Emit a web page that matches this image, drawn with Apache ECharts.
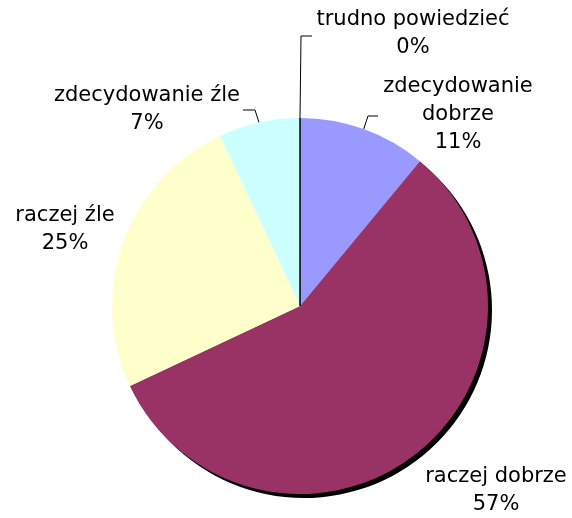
<!DOCTYPE html>
<html lang="pl">
<head>
  <meta charset="UTF-8" />
  <title>Ocena</title>
  <script src="https://cdn.jsdelivr.net/npm/echarts@6/dist/echarts.min.js"></script>
  <style>
    html, body { margin: 0; padding: 0; background: #ffffff; }
    #main { width: 572px; height: 518px; }
  </style>
</head>
<body>
  <div id="main"></div>
  <script>
  (function() {
    // kategorie i wartości (%), zgodnie z ruchem wskazówek zegara od góry
    const categories = ['zdecydowanie\ndobrze', 'raczej dobrze', 'raczej źle', 'zdecydowanie źle', 'trudno powiedzieć'];
    const values = [11, 57, 25, 7, 0];
    const colors = ['#9999ff', '#993366', '#ffffcc', '#ccffff', '#ffffff'];

    // rozmieszczenie etykiet: środek tekstu i punkty linii odniesienia
    const labelSpots = [
      { x: 458, y: 115, line: [[368, 116], [378, 116]] },
      { x: 496, y: 491, line: null },
      { x: 65, y: 230, line: null },
      { x: 147, y: 110, line: [[255, 110], [243, 110]] },
      { x: 413, y: 34, line: [[301, 36], [312, 36]] }
    ];

    const chart = echarts.init(document.getElementById('main'));

    function sliceStyle(i) {
      const s = { color: colors[i] };
      if (i === 1) {
        s.shadowColor = '#000';
        s.shadowOffsetX = 4;
        s.shadowOffsetY = 4;
        s.shadowBlur = 0;
      }
      if (values[i] === 0) {
        s.borderColor = '#000';
        s.borderWidth = 1;
      }
      return s;
    }

    chart.setOption({
      backgroundColor: '#ffffff',
      animation: false,
      series: [{
        type: 'pie',
        center: [300, 306],
        radius: 188,
        startAngle: 90,
        clockwise: true,
        avoidLabelOverlap: false,
        silent: true,
        data: categories.map((name, i) => ({
          name: name,
          value: values[i],
          itemStyle: sliceStyle(i),
          labelLine: { show: !!labelSpots[i].line }
        })),
        label: {
          show: true,
          position: 'outside',
          formatter: p => p.name + '\n' + p.value + '%',
          fontFamily: 'Verdana, "DejaVu Sans", sans-serif',
          fontSize: 21,
          lineHeight: 28,
          color: '#000',
          align: 'center'
        },
        labelLine: {
          show: true,
          lineStyle: { color: '#000', width: 1 }
        },
        labelLayout: function(params) {
          const spot = labelSpots[params.dataIndex];
          const out = { x: spot.x, y: spot.y, align: 'center', verticalAlign: 'middle' };
          if (spot.line && params.labelLinePoints) {
            out.labelLinePoints = [params.labelLinePoints[0]].concat(spot.line);
          }
          return out;
        }
      }]
    });
  })();
  </script>
</body>
</html>
